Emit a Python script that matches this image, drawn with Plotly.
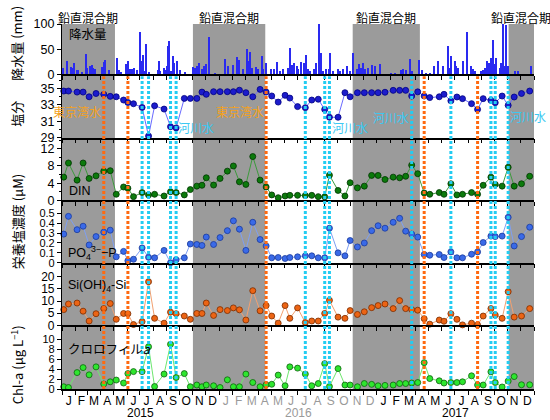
import plotly.graph_objects as go
import pandas as pd

# ---------------- data ----------------
T0 = pd.Timestamp("2015-01-01")

# sampling days (days since 2015-01-01)
sample_day = [4, 15, 35, 49, 63, 79, 97, 112, 126, 143, 153, 166, 186, 201, 215, 237, 252, 265, 284, 298,
              313, 325, 335, 352, 367, 384, 398, 412, 427, 443, 460, 474, 487,
              502, 518, 529, 547, 565, 580, 595, 610, 621, 641, 657, 669, 686, 702, 719, 734, 750,
              769, 784, 798, 812, 826, 841, 854, 876, 887, 903, 917, 930, 951, 965, 978, 996, 1006,
              1022, 1036, 1050, 1067, 1086]

salinity = [34.7, 34.7, 34.57, 34.57, 34.0, 34.4, 34.3, 34.05, 34.0, 33.6, 33.3, 33.15, 32.7, 29.2, 32.9,
            32.5, 30.35, 30.2, 33.8, 33.8, 33.8, 34.57, 34.3, 34.62, 34.62, 34.62, 34.62, 34.8, 34.5, 34.0,
            34.9, 34.57, 34.1,
            33.35, 34.17, 33.84, 32.8, 32.67, 33.6, 33.7, 32.46, 31.5, 31.5, 34.5, 34.0, 34.5, 34.5, 34.5,
            34.5, 34.55, 34.78, 34.78, 34.78, 34.09, 34.6, 34.09, 33.9, 34.0, 34.3, 33.5, 33.97, 33.77,
            33.16, 32.46, 33.77, 33.56, 33.28, 34.09, 32.95, 33.97, 34.4, 34.7]

din = [5.4, 8.7, 4.7, 8.7, 5.1, 5.7, 6.8, 6.9, 1.4, 3.1, 2.8, 0.85, 1.8, 1.25, 1.4, 1.0, 2.0, 1.8, 1.25,
       2.5, 3.3, 3.5, 5.25, 3.55, 5.1, 6.8, 8.0, 4.3, 3.7, 10.2, 4.7, 3.1, 1.25,
       0.6, 1.0, 1.15, 1.15, 1.1, 1.15, 0.85, 0.8, 5.85, 2.3, 1.0, 4.1, 2.9, 3.3, 5.8, 5.8, 4.85, 5.4,
       5.25, 5.6, 8.2, 6.2, 1.7, 1.4, 1.8, 1.4, 3.85, 1.25, 1.4, 1.8, 1.4, 3.5, 5.4, 3.7, 3.3, 7.7, 3.3,
       3.85, 5.6]

po4 = [0.29, 0.47, 0.335, 0.37, 0.18, 0.265, 0.31, 0.33, 0.06, 0.115, 0.02, 0.035, 0.15, 0.055, 0.05,
       0.125, 0.0, 0.03, 0.05, 0.19, 0.185, 0.175, 0.26, 0.185, 0.255, 0.325, 0.425, 0.34, 0.125, 0.41,
       0.235, 0.17, 0.05,
       0.053, 0.043, 0.053, 0.06, 0.07, 0.07, 0.05, 0.05, 0.35, 0.1, 0.07, 0.225, 0.16, 0.2, 0.325, 0.375,
       0.35, 0.41, 0.45, 0.32, 0.29, 0.26, 0.083, 0.076, 0.083, 0.053, 0.11, 0.05, 0.05, 0.086, 0.11,
       0.205, 0.27, 0.265, 0.27, 0.46, 0.17, 0.265, 0.36]

si = [6.5, 8.8, 9.2, 5.85, 1.8, 4.8, 6.9, 9.0, 2.5, 4.9, 4.8, 0.35, 1.55, 18.0, 2.9, 0.9, 5.45, 4.8, 3.85,
      2.5, 4.9, 4.9, 9.2, 4.1, 6.5, 6.1, 7.2, 6.4, 2.2, 14.3, 6.0, 8.15, 3.85,
      0.9, 8.15, 2.9, 7.2, 1.15, 1.8, 1.8, 4.9, 10.3, 3.4, 2.9, 6.1, 4.5, 5.6, 7.3, 8.15, 8.8, 6.9, 10.2,
      6.9, 6.5, 6.25, 2.75, 0.5, 2.2, 1.7, 4.8, 2.5, 0.2, 0.9, 0.2, 3.85, 6.9, 4.25, 2.9, 13.9, 3.4, 3.85,
      6.9]

chl = [0.45, 0.3, 3.3, 4.3, 2.85, 4.45, 1.0, 1.45, 1.8, 1.2, 3.1, 3.5, 3.5, 8.5, 0.5, 3.0, 9.0, 2.3, 3.1,
       0.45, 0.8, 0.45, 0.8, 0.65, 0.3, 1.85, 0.45, 0.45, 3.0, 1.3, 0.45, 0.85, 0.95,
       2.8, 0.65, 4.45, 4.2, 3.0, 0.65, 1.1, 5.1, 0.5, 4.1, 0.8, 0.8, 0.45, 1.1, 0.93, 0.65, 0.72, 0.8,
       1.1, 1.1, 1.2, 1.3, 5.3, 2.1, 1.65, 1.2, 1.3, 1.3, 1.45, 2.65, 0.8, 0.8, 3.45, 1.3, 0.4, 1.6, 2.5,
       0.85, 0.85]

# daily precipitation (days since 2015-01-01, mm)
precip_day = [2, 12, 21, 24, 27, 35, 38, 46, 56, 59, 66, 70, 73, 77, 93, 98, 101, 110, 129, 132,
              137, 149, 154, 157, 163, 168, 175, 182, 186, 188, 193, 196, 203, 223, 226, 228, 237, 240, 244, 247,
              249, 253, 257, 260, 267, 274, 286, 304, 309, 314, 318, 325, 330, 334, 342, 355, 379, 386, 397, 406,
              410, 421, 430, 433, 437, 442, 450, 456, 464, 468, 474, 485, 492,
              499, 506, 514, 526, 529, 535, 539, 545, 549, 554, 563, 567, 572, 577, 586, 591, 597, 601, 607, 614,
              620, 622, 630, 641, 645, 653, 663, 669, 676, 686, 690, 694, 700, 703, 710, 719, 727, 738, 765, 773,
              787, 792, 800, 808, 812, 829, 835, 846, 854, 863, 873, 885, 896, 900, 904, 912, 916, 920, 931, 941,
              951, 955, 958, 974, 978, 983, 988, 991, 996, 1001, 1005, 1009, 1017, 1020, 1024, 1028, 1031, 1036,
              1052, 1059, 1089]
precip_mm = [12, 26, 14, 13, 23, 8, 8, 5, 41, 13, 16, 18, 12, 11, 14, 24, 29, 8, 33, 8.5,
             4.6, 20, 26, 11, 10, 13, 8, 85, 26, 39, 6.5, 61, 4.6, 8.5, 26, 6.5, 13, 8.5, 16, 56,
             67, 6.5, 36, 23, 26, 8, 4.6, 15, 13, 16, 22, 11, 16, 20, 75, 3.3, 31, 16, 18, 35,
             29, 10, 50, 26, 44, 13, 14, 10, 36, 11, 23, 11, 10,
             24, 6.5, 9.8, 13, 52, 17.6, 23, 16, 9.8, 24.8, 23, 39, 11, 6.5, 9.8, 23, 102, 42.5, 6.5, 11,
             9.8, 42.5, 6.5, 11, 6.5, 9.8, 16, 6.5, 42.5, 9.8, 19.6, 13, 21.6, 9.8, 13, 17.6, 16, 19.6, 3.3, 3.3,
             8.5, 11, 8.5, 30.7, 6.5, 29.4, 7.8, 3.3, 3.3, 16, 26, 16, 55.6, 13, 36, 26, 16, 13, 26, 85,
             16, 9.8, 6.5, 6.5, 7.8, 13, 26, 23, 32.7, 68.6, 19.6, 32.7, 13, 23, 103, 16, 98, 16,
             6.5, 6.5, 16]

# sampling events influenced by Tokyo Bay water (orange) / river water (cyan)
orange_idx = [6, 10, 31, 55, 63]
cyan_idx = [12, 13, 16, 17, 37, 40, 41, 53, 59, 65, 66, 68]

# vertical mixing periods
mixing_periods = [("2015-01-01", "2015-05-04"), ("2015-11-01", "2016-04-17"),
                  ("2016-11-06", "2017-04-11"), ("2017-11-03", "2018-01-01")]

month_letters = ["J", "F", "M", "A", "M", "J", "J", "A", "S", "O", "N", "D"]
years = ["2015", "2016", "2017"]
year_colors = ["black", "#9a9a9a", "black"]

# ---------------- helpers ----------------
sample_dates = [T0 + pd.Timedelta(days=d) for d in sample_day]
precip_dates = [T0 + pd.Timedelta(days=d) for d in precip_day]

W, H = 550, 420
ML, MR, MT, MB = 62, 16, 24, 26
PW, PH = W - ML - MR, H - MT - MB


def py(p):  # pixel y -> paper
    return (H - MB - p) / PH


def px(p):  # pixel x -> paper
    return (p - ML) / PW


FONT = "Liberation Sans, Arial, Noto Sans CJK JP"
CJK = "Noto Sans CJK JP, Liberation Sans"

panels_px = [(24, 75), (77, 139.3), (141, 202.7), (204, 266), (268, 329.5), (331, 394)]
domains = [[py(b), py(t)] for (t, b) in panels_px]

month_starts = list(pd.date_range("2015-01-01", "2018-01-01", freq="MS"))
month_mids = [month_starts[i] + (month_starts[i + 1] - month_starts[i]) / 2 for i in range(36)]
month_text = []
for i in range(36):
    yi = i // 12
    letter = month_letters[i % 12]
    if year_colors[yi] != "black":
        month_text.append("<span style='color:%s'>%s</span>" % (year_colors[yi], letter))
    else:
        month_text.append(letter)

fig = go.Figure()

fig.add_trace(go.Bar(x=precip_dates, y=precip_mm, width=2.6 * 86400000,
                     marker=dict(color="#2a2af0", line=dict(width=0)),
                     xaxis="x", yaxis="y", showlegend=False))

series = [
    (salinity, "x2", "y2", "#1c1ccc", "#000080", "#6a6aff"),
    (din, "x3", "y3", "#0b7a0b", "#003300", "#3c9a3c"),
    (po4, "x4", "y4", "#3a6ae8", "#1a3a9a", "#7f9ff2"),
    (si, "x5", "y5", "#ec6414", "#7a2c00", "#f2a070"),
    (chl, "x6", "y6", "#2ee62e", "#106010", "#6ee66e"),
]
for vals, xa, ya, fc, ec, lc in series:
    fig.add_trace(go.Scatter(x=sample_dates, y=vals, mode="lines+markers", xaxis=xa, yaxis=ya,
                             line=dict(color=lc, width=1),
                             marker=dict(size=6, color=fc, line=dict(color=ec, width=0.8)),
                             showlegend=False, cliponaxis=False))

shapes = []
for a, b in mixing_periods:
    shapes.append(dict(type="rect", xref="x", yref="paper", x0=a, x1=b, y0=0, y1=1,
                       fillcolor="#9b9b9b", line=dict(width=0), layer="below"))
top_sal = domains[1][1]
for idx, col in [(i, "#ff6a10") for i in orange_idx] + [(i, "#22ccf2") for i in cyan_idx]:
    shapes.append(dict(type="line", xref="x", yref="paper", x0=sample_dates[idx], x1=sample_dates[idx],
                       y0=0, y1=top_sal, line=dict(color=col, width=3, dash="3px,2px"), layer="above"))

layout = dict(width=W, height=H, margin=dict(l=ML, r=MR, t=MT, b=MB),
              paper_bgcolor="white", plot_bgcolor="rgba(0,0,0,0)",
              font=dict(family=FONT, size=12, color="black"),
              shapes=shapes, bargap=0, showlegend=False)

yspecs = [
    dict(range=[0, 100], tickvals=[0, 50, 100]),
    dict(range=[29, 36.5], tickvals=[29, 31, 33, 35], minor=dict(dtick=1, ticks="outside", ticklen=2, tickcolor="black")),
    dict(range=[0, 14.2], tickvals=[0, 4, 8, 12], minor=dict(dtick=2, ticks="outside", ticklen=2, tickcolor="black")),
    dict(range=[0, 0.62], tickvals=[0, 0.1, 0.2, 0.3, 0.4, 0.5]),
    dict(range=[0, 25], tickvals=[0, 5, 10, 15, 20]),
    dict(range=[0, 12.5], tickvals=[0, 2, 4, 6, 8, 10]),
]
tick_sizes = [12.5, 12.5, 12.5, 11, 12, 11]
for k in range(6):
    sfx = "" if k == 0 else str(k + 1)
    xa = dict(type="date", range=["2015-01-01", "2018-01-01"], domain=[0, 1], anchor="y" + sfx,
              showline=True, linecolor="black", linewidth=1.5, showgrid=False, zeroline=False,
              ticks="outside", ticklen=4, tickwidth=1.2, tickcolor="black",
              tickmode="array", tickvals=month_starts, showticklabels=False)
    if k == 5:
        xa.update(tickvals=month_mids, ticktext=month_text, ticks="", showticklabels=True,
                  tickfont=dict(size=12, family=FONT),
                  minor=dict(tickmode="array", tickvals=month_starts, ticks="outside", ticklen=4,
                             tickwidth=1.2, tickcolor="black", showgrid=False))
    ya = dict(domain=domains[k], anchor="x" + sfx, showline=True, linecolor="black", linewidth=1.2,
              showgrid=False, zeroline=False, ticks="outside", ticklen=4, tickwidth=1.2, tickcolor="black",
              tickfont=dict(size=tick_sizes[k], family=FONT), tickmode="array")
    ya.update(yspecs[k])
    layout["xaxis" + sfx] = xa
    layout["yaxis" + sfx] = ya

ann = []
# y axis titles
for txt, ycen in [("降水量 (mm)", 44), ("塩分", 115), ("栄養塩濃度 (μM)", 225),
                  ("Chl-a (μg L<sup>−1</sup>)", 370)]:
    ann.append(dict(text=txt, x=px(17), y=py(ycen), xref="paper", yref="paper", textangle=-90,
                    showarrow=False, xanchor="center", yanchor="middle", font=dict(size=13, family=CJK)))
# mixing period labels
for a, b in mixing_periods:
    mid = pd.Timestamp(a) + (pd.Timestamp(b) - pd.Timestamp(a)) / 2
    ann.append(dict(text="鉛直混合期", x=mid, y=py(17), xref="x", yref="paper", showarrow=False,
                    xanchor="center", yanchor="middle", font=dict(size=12, family=CJK)))
# panel labels
for txt, xl, yc, fam in [("降水量", 67, 34, CJK), ("DIN", 67, 193, FONT),
                         ("PO<sub>4</sub><sup>3−</sup>−P", 66, 256, FONT),
                         ("Si(OH)<sub>4</sub>-Si", 66, 290, FONT),
                         ("クロロフィル<i>a</i>", 66, 353, CJK)]:
    ann.append(dict(text=txt, x=px(xl), y=py(yc), xref="paper", yref="paper", showarrow=False,
                    xanchor="left", yanchor="middle", font=dict(size=12.5, family=fam)))
# water type labels in salinity panel
for txt, xc, yc, col in [("東京湾水", 77, 113, "#f4a11d"), ("東京湾水", 240, 113, "#f4a11d"),
                         ("河川水", 196, 129, "#3cc8f2"), ("河川水", 350, 129, "#3cc8f2"),
                         ("河川水", 391, 119, "#3cc8f2"), ("河川水", 528, 118, "#3cc8f2")]:
    ann.append(dict(text=txt, x=px(xc), y=py(yc), xref="paper", yref="paper", showarrow=False,
                    xanchor="center", yanchor="middle", font=dict(size=12, family=CJK, color=col)))
# year labels
for i, yr in enumerate(years):
    ann.append(dict(text=yr, x=pd.Timestamp(yr + "-07-02"), y=py(418), xref="x6", yref="paper",
                    showarrow=False, xanchor="center", yanchor="middle",
                    font=dict(size=12, family=FONT, color=year_colors[i])))
layout["annotations"] = ann

fig.update_layout(layout)
fig.write_html("out.html")
